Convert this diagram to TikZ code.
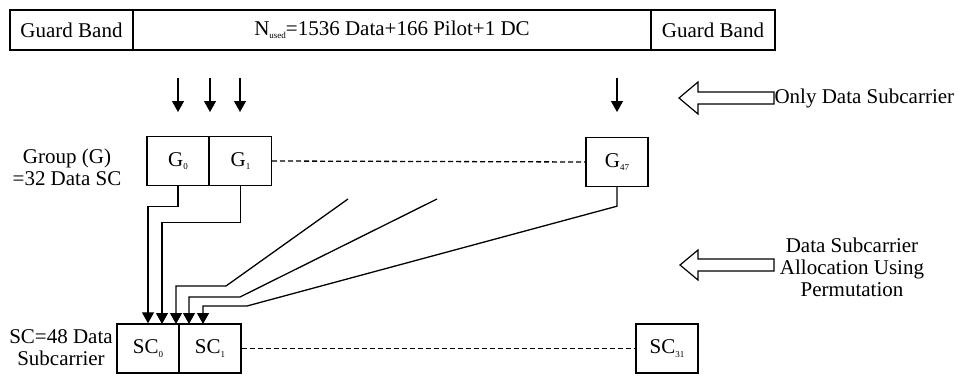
\documentclass[tikz,border=0pt]{standalone}
\usepackage{fontspec}
\setmainfont{Liberation Serif}
\usetikzlibrary{arrows.meta}

\newcommand{\subs}[1]{\raisebox{-0.35ex}{\fontsize{9}{9}\selectfont #1}}

\tikzset{
	band/.style={draw, line width=1.6pt, minimum height=40pt, inner sep=0pt},
	cell/.style={draw, line width=1.4pt, minimum height=49pt, minimum width=62pt, inner sep=0pt},
	conn/.style={line width=1.3pt, -{Triangle[length=11pt,width=12pt]}},
	link/.style={line width=1.3pt, dash pattern=on 5pt off 3pt},
	hollow/.style={draw, line width=1.2pt, fill=white},
}

\begin{document}
\begin{tikzpicture}[x=1pt, y=-1pt, font=\fontsize{21}{22}\selectfont]
	
	\useasboundingbox (0,0) rectangle (961,375);
	
	% top band
	\node[band, minimum width=123pt] (gbl) at (71.5,30) {Guard Band};
	\node[band, minimum width=518pt] (used) at (392,30) {N\subs{used}=1536 Data+166 Pilot+1 DC};
	\node[band, minimum width=124pt] (gbr) at (713,30) {Guard Band};
	
	% groups
	\node[align=center] (glab) at (67,167) {Group (G)\\=32 Data SC};
	\node[cell] (g0) at (178,161) {G\subs{0}};
	\node[cell] (g1) at (240.5,161) {G\subs{1}};
	\node[cell] (g47) at (617,162) {G\subs{47}};
	
	\draw[link] (g1.east) -- (g47.west);
	
	% subcarriers
	\node[align=center] (sclab) at (61,348) {SC=48 Data\\Subcarrier};
	\node[cell] (sc0) at (148,348.5) {SC\subs{0}};
	\node[cell] (sc1) at (210,348.5) {SC\subs{1}};
	\node[cell] (sc31) at (667,348.5) {SC\subs{31}};
	
	\draw[link] (sc1.east) -- (sc31.west);
	
	% data only arrows
	\foreach \x/\n in {178/a,210/b,240/c,617/d}{
		\coordinate (in\n) at (\x,78);
		\draw[conn] (in\n) -- ++(0,34);
	}
	
	\draw[hollow] (774,92) -- (698,92) -- (698,82) -- (679,98) -- (698,114) -- (698,104) -- (774,104) -- cycle;
	\node[anchor=west] (only) at (771,98) {Only Data Subcarrier};
	
	% permutation
	\coordinate (f1) at (348,199);
	\coordinate (f2) at (437,199);
	\coordinate (t2) at (162,324);
	\coordinate (t3) at (176,324);
	\coordinate (t4) at (189,324);
	\coordinate (t5) at (203,324);
	
	\draw[conn] (g0.south) -- ++(0,20) -| (sc0.north);
	\draw[conn] (g1.south) -- ++(0,36) -| (t2);
	\draw[conn] (f1) -- (226,286) -| (t3);
	\draw[conn] (f2) -- (240,297) -| (t4);
	\draw[conn] (g47.south) -- ++(0,19) -- (247,306) -| (t5);
	
	\draw[hollow] (774,259) -- (698,259) -- (698,250) -- (680,265) -- (698,280) -- (698,271) -- (774,271) -- cycle;
	\node[align=center] (alloc) at (852,267) {Data Subcarrier\\Allocation Using\\Permutation};
	
\end{tikzpicture}
\end{document}
